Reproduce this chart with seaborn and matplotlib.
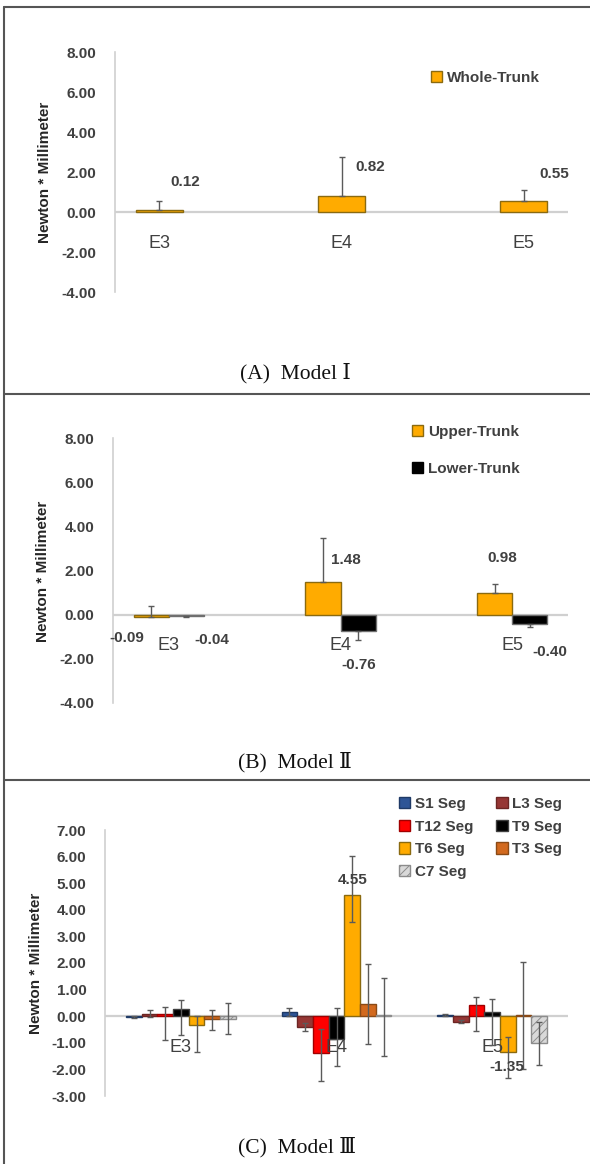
import matplotlib
matplotlib.use("Agg")
import matplotlib.pyplot as plt
from matplotlib.lines import Line2D
from matplotlib.patches import Patch
import numpy as np
import pandas as pd
import seaborn as sns

# ---- data ----
conds = ['E3', 'E4', 'E5']

# (A) Model I
whole_trunk = [0.12, 0.82, 0.55]
whole_err_hi = [0.43, 1.95, 0.53]

# (B) Model II
upper_trunk = [-0.09, 1.48, 0.98]
upper_err_hi = [0.50, 2.00, 0.43]
lower_trunk = [-0.04, -0.76, -0.40]
lower_err_lo = [0.08, 0.38, 0.16]

# (C) Model III
seg_names = ['S1 Seg', 'L3 Seg', 'T12 Seg', 'T9 Seg', 'T6 Seg', 'T3 Seg', 'C7 Seg']
s1 = [-0.03, 0.15, 0.05]
l3 = [0.07, -0.40, -0.20]
t12 = [0.07, -1.38, 0.42]
t9 = [0.28, -0.85, 0.17]
t6 = [-0.32, 4.55, -1.35]
t3 = [-0.12, 0.47, 0.03]
c7 = [-0.10, 0.03, -1.02]
seg_err_lo = [[0.03, 0.15, 0.03], [0.10, 0.15, 0.05], [0.97, 1.04, 0.99], [0.97, 1.03, 1.26],
              [1.01, 1.01, 0.98], [0.41, 1.50, 2.03], [0.58, 1.53, 0.81]]
seg_err_hi = [[0.03, 0.15, 0.03], [0.18, 0.15, 0.05], [0.26, 0.89, 0.31], [0.33, 1.15, 0.47],
              [0.32, 1.49, 0.58], [0.36, 1.48, 2.02], [0.59, 1.42, 0.82]]

seg_colors = ['#2e5596', '#963634', '#ff0000', '#000000', '#ffab00', '#d2691e', '#bfbfbf']
seg_edges = ['#1f3a66', '#6b2523', '#a00000', '#404040', '#8a6a10', '#8a4a16', '#8c8c8c']

W, H = 590, 1164
GREY = '#404040'
AXIS = '#d0d0d0'
FS = 11

sns.set_style('white')
plt.rcParams['font.family'] = ['Liberation Sans', 'DejaVu Sans']
plt.rcParams['axes.unicode_minus'] = False
plt.rcParams['hatch.linewidth'] = 0.7

fig = plt.figure(figsize=(W / 100, H / 100), dpi=100)


def px_axes(left, right, top, bottom):
    return fig.add_axes([left / W, 1 - bottom / H, (right - left) / W, (bottom - top) / H])


def style_axes(ax, ylim, step):
    ax.set_ylim(*ylim)
    ax.set_yticks(np.arange(ylim[0], ylim[1] + step / 2, step))
    ax.set_yticklabels([f'{v:.2f}' for v in ax.get_yticks()], fontsize=FS,
                       fontweight='bold', color=GREY)
    ax.set_xticks([])
    ax.set_xlabel('')
    ax.set_ylabel('')
    for s in ['top', 'right', 'bottom']:
        ax.spines[s].set_visible(False)
    ax.spines['left'].set_color(AXIS)
    ax.spines['left'].set_linewidth(1.2)
    ax.tick_params(axis='y', length=3.5, color=AXIS, width=1.2, pad=10)
    ax.axhline(0, color=AXIS, lw=1.6, zorder=0.5)
    ax.set_facecolor('none')
    for i, c in enumerate(conds):
        ax.annotate(c, xy=(i, 0), xytext=(0, -31), textcoords='offset pixels',
                    ha='center', va='center', fontsize=13, color=GREY)


def add_errors(ax, container, vals, lo, hi, color='#5a5a5a'):
    xs = [p.get_x() + p.get_width() / 2 for p in container.patches]
    ax.errorbar(xs, vals, yerr=[lo, hi], fmt='none', ecolor=color, elinewidth=1,
                capsize=2.5, capthick=1, zorder=5)
    return xs


def add_labels(ax, xs, vals, texts, offsets):
    for x, v, t, (dx, dy) in zip(xs, vals, texts, offsets):
        ax.annotate(t, xy=(x, v), xytext=(dx, dy), textcoords='offset pixels',
                    ha='center', va='center', fontsize=FS, fontweight='bold', color=GREY,
                    zorder=6)


def ylabel(y_center, x):
    fig.text(x / W, 1 - y_center / H, 'Newton * Millimeter', rotation=90, ha='center',
             va='center', fontsize=11, fontweight='bold', color='#262626')


legend_kw = dict(bbox_transform=fig.transFigure, frameon=False, handlelength=0.75,
                 handleheight=0.75, handletextpad=0.3, borderpad=0, borderaxespad=0,
                 prop={'size': FS, 'weight': 'bold'}, labelcolor=GREY)

# ---------------- Panel A ----------------
axA = px_axes(115, 568, 52, 292)
dfA = pd.DataFrame({'cond': conds, 'value': whole_trunk, 'series': 'Whole-Trunk'})
sns.barplot(data=dfA, x='cond', y='value', hue='series', palette={'Whole-Trunk': '#ffab00'},
            width=0.26, saturation=1, errorbar=None, legend=False, edgecolor='#8a6a10',
            linewidth=1, ax=axA, zorder=3)
barsA = list(axA.containers)
style_axes(axA, (-4, 8), 2)
xs = add_errors(axA, barsA[0], whole_trunk, [0, 0, 0], whole_err_hi)
add_labels(axA, xs, whole_trunk, [f'{v:.2f}' for v in whole_trunk],
           [(26, 28), (29, 29), (31, 27)])
axA.legend(handles=[Patch(facecolor='#ffab00', edgecolor='#8a6a10', label='Whole-Trunk')],
           loc='center left', bbox_to_anchor=(431 / W, 1 - 78 / H), **legend_kw)
ylabel(172, 45)

# ---------------- Panel B ----------------
axB = px_axes(113, 568, 438, 703)
dfB = pd.DataFrame({'cond': conds * 2, 'value': upper_trunk + lower_trunk,
                    'series': ['Upper-Trunk'] * 3 + ['Lower-Trunk'] * 3})
sns.barplot(data=dfB, x='cond', y='value', hue='series',
            hue_order=['Upper-Trunk', 'Lower-Trunk'],
            palette={'Upper-Trunk': '#ffab00', 'Lower-Trunk': '#000000'},
            width=0.41, saturation=1, errorbar=None, legend=False, edgecolor='#6f6f6f',
            linewidth=1, ax=axB, zorder=3)
barsB = list(axB.containers)
for p in barsB[0].patches:
    p.set_edgecolor('#8a6a10')
style_axes(axB, (-4, 8), 2)
xu = add_errors(axB, barsB[0], upper_trunk, [0, 0, 0], upper_err_hi)
xl = add_errors(axB, barsB[1], lower_trunk, lower_err_lo, [0, 0, 0])
add_labels(axB, xu, upper_trunk, [f'{v:.2f}' for v in upper_trunk],
           [(-24, -21), (23, 22), (8, 35)])
add_labels(axB, xl, lower_trunk, [f'{v:.2f}' for v in lower_trunk],
           [(25, -24), (1, -34), (20, -29)])
axB.legend(handles=[Patch(facecolor='#ffab00', edgecolor='#8a6a10', label='Upper-Trunk'),
                    Patch(facecolor='#000000', edgecolor='#000000', label='Lower-Trunk')],
           loc='upper left', bbox_to_anchor=(412 / W, 1 - 425 / H), labelspacing=1.48,
           **legend_kw)
ylabel(571, 43)

# ---------------- Panel C ----------------
axC = px_axes(105, 568, 830, 1096)
seg_vals = [s1, l3, t12, t9, t6, t3, c7]
dfC = pd.DataFrame({'cond': conds * len(seg_names),
                    'value': sum(seg_vals, []),
                    'series': np.repeat(seg_names, len(conds))})
sns.barplot(data=dfC, x='cond', y='value', hue='series', hue_order=seg_names,
            palette=dict(zip(seg_names, seg_colors)), width=0.705, saturation=1,
            errorbar=None, legend=False, linewidth=1, ax=axC, zorder=3)
barsC = list(axC.containers)
for cont, ec in zip(barsC, seg_edges):
    for p in cont.patches:
        p.set_edgecolor(ec)
for p in barsC[6].patches:
    p.set_hatch('////')
    p.set_facecolor('#d9d9d9')
style_axes(axC, (-3, 7), 1)
seg_x = []
for k, cont in enumerate(barsC):
    seg_x.append(add_errors(axC, cont, seg_vals[k], seg_err_lo[k], seg_err_hi[k]))
add_labels(axC, [seg_x[4][1], seg_x[4][2]], [t6[1], t6[2]],
           [f'{t6[1]:.2f}', f'{t6[2]:.2f}'], [(0, 15), (-1, -15)])
handles = []
for name, fc, ec in zip(seg_names, seg_colors, seg_edges):
    if name == 'C7 Seg':
        handles.append(Patch(facecolor='#d9d9d9', edgecolor=ec, hatch='////', label=name))
    else:
        handles.append(Patch(facecolor=fc, edgecolor=ec, label=name))
order = [0, 2, 4, 6, 1, 3, 5]
axC.legend(handles=[handles[i] for i in order], ncol=2,
           loc='upper left', bbox_to_anchor=(399 / W, 1 - 797 / H),
           labelspacing=0.57, columnspacing=1.5, **legend_kw)
ylabel(963, 36)


# ---------------- frame and captions ----------------
def fig_line(x0, y0, x1, y1):
    fig.add_artist(Line2D([x0 / W, x1 / W], [1 - y0 / H, 1 - y1 / H],
                          transform=fig.transFigure, color='#555555', lw=1.5))


fig_line(4, 7, W, 7)
fig_line(4, 7, 4, H)
fig_line(4, 393.5, W, 393.5)
fig_line(4, 780, W, 780)

cap_font = ['Liberation Serif', 'DejaVu Serif', 'Noto Sans CJK KR']
for txt, x, y in [('(A)  Model Ⅰ', 295, 373), ('(B)  Model Ⅱ', 295, 762),
                  ('(C)  Model Ⅲ', 297, 1147)]:
    fig.text(x / W, 1 - y / H, txt, ha='center', va='center', fontsize=15.5,
             family=cap_font, color='#111111')

fig.savefig('out.png', dpi=100)
